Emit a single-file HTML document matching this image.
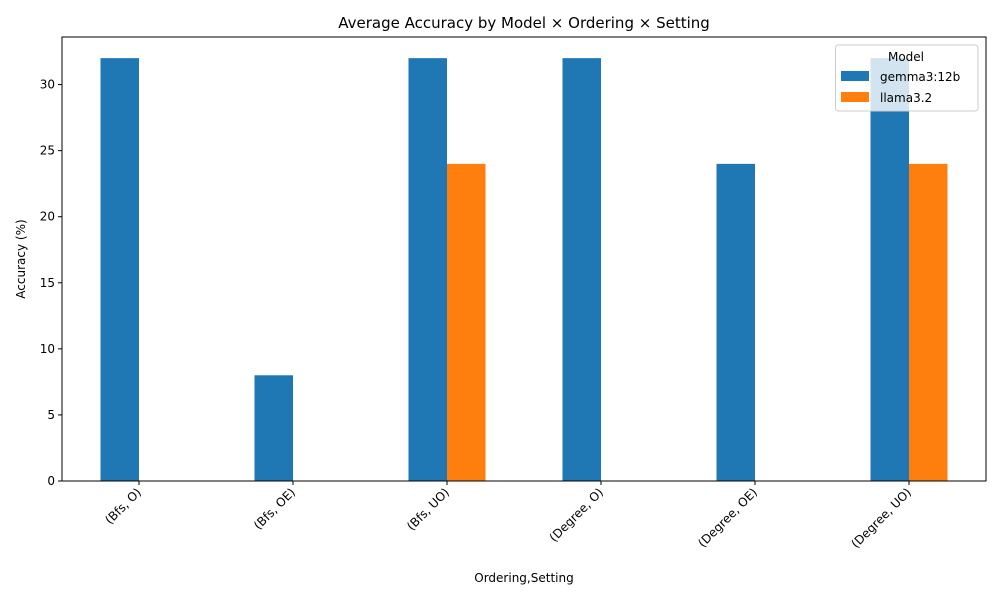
<!DOCTYPE html>
<html><head><meta charset="utf-8"><style>
body{margin:0;background:#fff;font-family:"Liberation Sans","DejaVu Sans",sans-serif}
svg text{font-family:"DejaVu Sans","Liberation Sans",sans-serif}
</style></head><body>
<svg id="chart" width="1000" height="600">
<text x="524" y="28" font-size="15" text-anchor="middle">Average Accuracy by Model × Ordering × Setting</text>
<text x="524" y="582" font-size="12" text-anchor="middle">Ordering,Setting</text>
<text transform="translate(25,259) rotate(-90)" font-size="12" text-anchor="middle">Accuracy (%)</text>
<g id="marks"></g>
<rect x="62" y="37" width="924" height="444" fill="none" stroke="#000" stroke-width="1"/>
<g>
<rect x="835.5" y="45" width="142.5" height="66" fill="#fff" fill-opacity="0.8" stroke="#ccc" rx="3"/>
<text x="906" y="61" font-size="12" text-anchor="middle">Model</text>
<rect x="841" y="71" width="28" height="10" fill="#1f77b4"/>
<text x="880" y="81" font-size="12">gemma3:12b</text>
<rect x="841" y="92" width="28" height="10" fill="#ff7f0e"/>
<text x="880" y="102" font-size="12">llama3.2</text>
</g>
</svg>
<script>
const categories=["(Bfs, O)","(Bfs, OE)","(Bfs, UO)","(Degree, O)","(Degree, OE)","(Degree, UO)"];
const gemma=[32,8,32,32,24,32];
const llama=[0,0,24,0,0,24];
const yTicks=[0,5,10,15,20,25,30];
const L=62,R=986,T=37,B=481,yMax=33.6;
const ns="http://www.w3.org/2000/svg";
const svg=document.getElementById('chart');
const marks=document.getElementById('marks');
const bw=(R-L)/categories.length;
function y(v){return B-v/yMax*(B-T);}
function xc(i){return L+bw*(i+0.5);}
function mk(t,a,p){const e=document.createElementNS(ns,t);for(const k in a)e.setAttribute(k,a[k]);(p||svg).appendChild(e);return e;}
const series=[[gemma,'#1f77b4','gemma'],[llama,'#ff7f0e','llama']];
series.forEach(([vals,col,nm],s)=>{
 vals.forEach((v,i)=>{
  const x=xc(i)+(s-1)*bw*0.25;
  const r=mk('rect',{x:x,y:y(v),width:bw*0.25,height:B-y(v),fill:col},marks);
  
  
 });
});
yTicks.forEach(t=>{
 const l=mk('line',{x1:L-4,x2:L,y1:y(t),y2:y(t),stroke:'#000'});
 
 
 const tx=mk('text',{x:L-7,y:y(t)+4,'font-size':12,'text-anchor':'end'});
 tx.textContent=t;
 
 
});
categories.forEach((c,i)=>{
 const x=xc(i);
 const l=mk('line',{x1:x,x2:x,y1:B,y2:B+4,stroke:'#000'});
 
 
 const tx=mk('text',{'font-size':12,'text-anchor':'end',transform:`translate(${x+3},${B+12}) rotate(-45)`});
 tx.textContent=c;
 
 
});
</script>
</body></html>
